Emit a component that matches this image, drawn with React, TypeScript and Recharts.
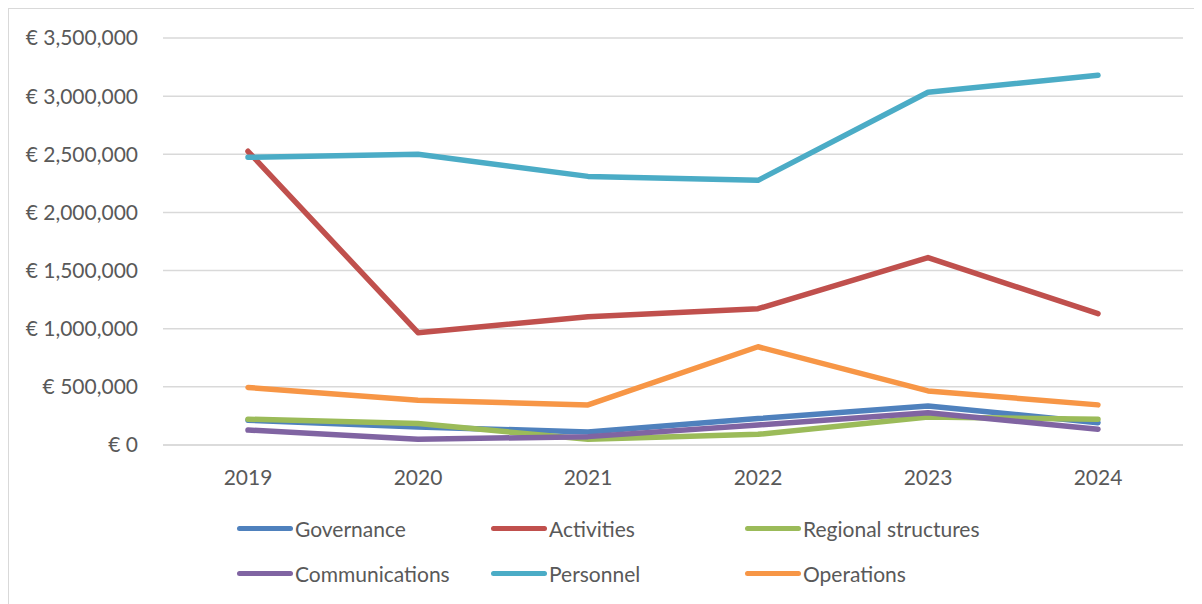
import React from 'react';
import { LineChart, Line, XAxis, YAxis, CartesianGrid } from 'recharts';

const years = ['2019', '2020', '2021', '2022', '2023', '2024'];

const governance = [213000, 155000, 112000, 227000, 336000, 192000];
const activities = [2526000, 966000, 1103000, 1172000, 1612000, 1129000];
const regional = [222000, 184000, 49000, 92000, 241000, 221000];
const communications = [129000, 49000, 72000, 172000, 278000, 135000];
const personnel = [2474000, 2500000, 2310000, 2276000, 3034000, 3180000];
const operations = [495000, 385000, 345000, 845000, 465000, 345000];

const yTicks = [0, 500000, 1000000, 1500000, 2000000, 2500000, 3000000, 3500000];

const SERIES = [
  { key: 'governance', name: 'Governance', color: '#4F81BD', values: governance },
  { key: 'activities', name: 'Activities', color: '#C0504D', values: activities },
  { key: 'regional', name: 'Regional structures', color: '#9BBB59', values: regional },
  { key: 'communications', name: 'Communications', color: '#8064A2', values: communications },
  { key: 'personnel', name: 'Personnel', color: '#4BACC6', values: personnel },
  { key: 'operations', name: 'Operations', color: '#F79646', values: operations },
];

const data = years.map((year, i) => {
  const row: Record<string, string | number> = { year };
  SERIES.forEach(s => {
    row[s.key] = s.values[i];
  });
  return row;
});

const FONT = 'Lato, "Open Sans", sans-serif';
const TEXT = '#595959';
const GRID = '#d9d9d9';

const formatEuro = (v: number) => `€ ${v.toLocaleString('en-US')}`;

const legendCols = [228, 482, 736];
const legendRows = [519, 564];

export default function App() {
  return (
    <div
      style={{
        position: 'relative',
        width: 1188,
        height: 600,
        border: `1px solid ${GRID}`,
        fontFamily: FONT,
        background: '#fff',
      }}
    >
      <LineChart
        width={1188}
        height={600}
        data={data}
        margin={{ top: 29, right: 14, bottom: 134, left: 0 }}
      >
        <CartesianGrid vertical={false} stroke={GRID} strokeWidth={1.5} />
        <XAxis
          dataKey="year"
          height={30}
          padding={{ left: 85, right: 85 }}
          axisLine={{ stroke: GRID, strokeWidth: 1.5 }}
          tickLine={false}
          tick={{ fill: TEXT, fontSize: 21, fontFamily: FONT }}
          tickMargin={19}
        />
        <YAxis
          width={154}
          domain={[0, 3500000]}
          ticks={yTicks}
          tickFormatter={formatEuro}
          axisLine={false}
          tickLine={false}
          tick={{ fill: TEXT, fontSize: 21, fontFamily: FONT }}
          tickMargin={19}
          interval={0}
        />
        {SERIES.map(s => (
          <Line
            key={s.key}
            type="linear"
            dataKey={s.key}
            name={s.name}
            stroke={s.color}
            strokeWidth={5.5}
            strokeLinecap="round"
            strokeLinejoin="round"
            dot={false}
            activeDot={false}
            isAnimationActive={false}
          />
        ))}
      </LineChart>
      {SERIES.map((s, i) => (
        <div
          key={s.key}
          style={{
            position: 'absolute',
            left: legendCols[i % 3],
            top: legendRows[Math.floor(i / 3)] - 14,
            height: 28,
            display: 'flex',
            alignItems: 'center',
            color: TEXT,
            fontSize: 21,
            whiteSpace: 'nowrap',
          }}
        >
          <span
            style={{
              display: 'inline-block',
              width: 56,
              height: 5,
              borderRadius: 3,
              background: s.color,
              marginRight: 2,
            }}
          />
          {s.name}
        </div>
      ))}
    </div>
  );
}
